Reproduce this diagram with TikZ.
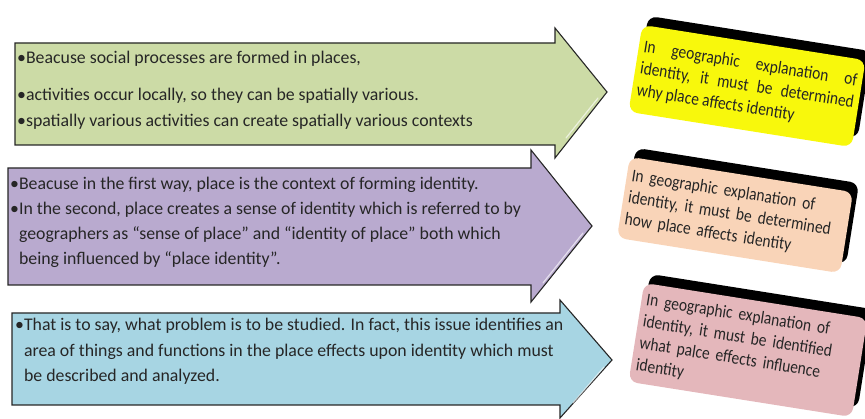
\documentclass[tikz,border=0pt]{standalone}
\usepackage{fontspec}
\setmainfont{Carlito}
\newfontfamily\narrowfont[FakeStretch=0.86]{Carlito}
\usetikzlibrary{shadows}

\definecolor{arrgreen}{HTML}{CCDBA6}
\definecolor{arrpurple}{HTML}{B9AACF}
\definecolor{arrblue}{HTML}{A7D5E3}
\definecolor{boxyellow}{HTML}{F8F80C}
\definecolor{boxpeach}{HTML}{F9D4B8}
\definecolor{boxpink}{HTML}{E4B7BB}

\tikzset{
	arrowbody/.style={draw=black!85, line width=1.1pt, line join=miter},
	glint/.style={draw=white, opacity=0.6, line width=1.2pt, line cap=round},
	itemtext/.style={anchor=north west, align=left, inner sep=0pt, text=black!85,
		font=\fontsize{17.8}{26}\selectfont},
	answerbox/.style={rounded corners=9pt, rotate=-9, minimum width=226pt,
		minimum height=88pt, text width=216pt, inner xsep=5pt, inner ysep=5pt,
		text=black!85, font=\narrowfont\fontsize{18}{22}\selectfont,
		general shadow={fill=black, shadow xshift=6pt, shadow yshift=9pt}}
}

\begin{document}
\begin{tikzpicture}[x=1pt, y=-1pt]
			%%%%% START %%%%%
			\useasboundingbox (0, 0) rectangle (865, 419);
			
			% first arrow
			\draw[arrowbody, fill=arrgreen] (15, 43) -- (555, 43) -- (555, 28) -- (607, 92)
				-- (555, 158) -- (555, 145) -- (15, 145) -- cycle;
			\draw[glint] (598, 98) -- (566, 138);
			\node[itemtext] (why1) at (17, 51) {•Beacuse social processes are formed in places,\\[11pt]
				•activities occur locally, so they can be spatially various.\\
				•spatially various activities can create spatially various contexts};
			
			% second arrow
			\draw[arrowbody, fill=arrpurple] (8, 168) -- (531, 168) -- (531, 150) -- (592, 226)
				-- (531, 302) -- (531, 285) -- (8, 285) -- cycle;
			\draw[glint] (583, 233) -- (543, 283);
			\node[itemtext, font=\fontsize{17.8}{25}\selectfont] (how1) at (10, 177)
				{•Beacuse in the first way, place is the context of forming identity.\\
				•In the second, place creates a sense of identity which is referred to by\\
				\phantom{•}geographers as “sense of place” and “identity of place” both which\\
				\phantom{•}being influenced by “place identity”.};
			
			% third arrow
			\draw[arrowbody, fill=arrblue] (12, 313) -- (560, 313) -- (560, 300) -- (612, 360)
				-- (560, 418) -- (560, 405) -- (12, 405) -- cycle;
			\draw[glint] (604, 367) -- (573, 403);
			\node[itemtext, font=\fontsize{17.8}{25.5}\selectfont] (what1) at (15, 318)
				{•That is to say, what problem is to be studied. In fact, this issue identifies an\\
				\phantom{•}area of things and functions in the place effects upon identity which must\\
				\phantom{•}be described and analyzed.};
			
			% boxes on the right
			\node[answerbox, fill=boxyellow, align=justify] (why2) at (747, 86)
				{In geographic explanation of\linebreak identity, it must be determined\linebreak why place affects identity};
			\node[answerbox, fill=boxpeach, align=left, minimum height=82pt] (how2) at (735, 215)
				{In geographic explanation of\\ identity, it must be determined\\ how place affects identity};
			\node[answerbox, fill=boxpink, align=left, minimum height=100pt] (what2) at (748, 350)
				{In geographic explanation of\\ identity, it must be identified\\ what palce effects influence\\ identity};
			%%%%% END %%%%%
\end{tikzpicture}
\end{document}
